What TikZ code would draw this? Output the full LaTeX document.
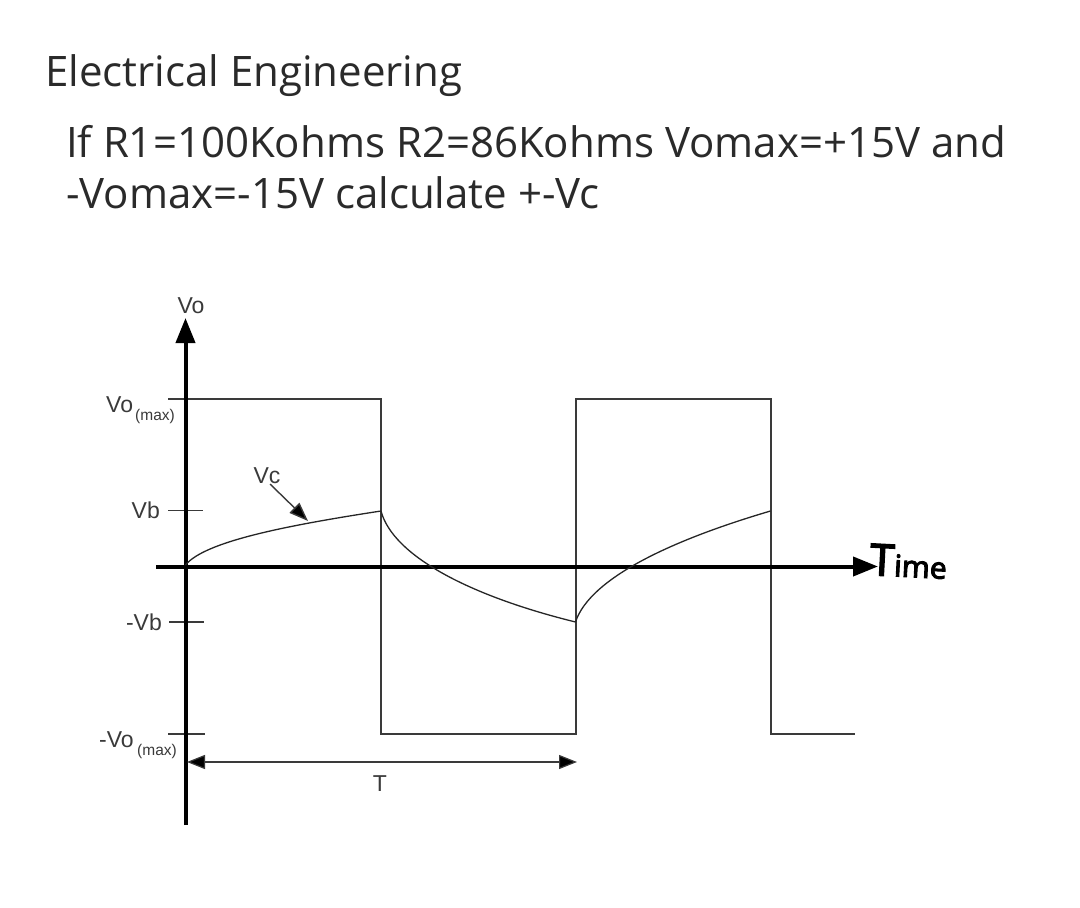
\documentclass[tikz,border=0pt]{standalone}
\usepackage{fontspec}
\setmainfont{Open Sans}
\newfontfamily\plotfont{Liberation Sans}
\newfontfamily\handfont[FakeBold=3]{Noto Sans}
\usetikzlibrary{arrows.meta}
\definecolor{inkc}{HTML}{2A2A2A}
\definecolor{plotc}{HTML}{3A3A3A}
\tikzset{
 x=1pt,y=-1pt,
 head/.style={anchor=base west,inner sep=0,font=\fontsize{42}{48}\selectfont,text=inkc},
 lab/.style={inner sep=0,anchor=base,font=\plotfont\fontsize{23}{26}\selectfont,text=plotc},
 sublab/.style={inner sep=0,anchor=base west,font=\plotfont\fontsize{15.5}{18}\selectfont,text=plotc},
 axis/.style={line width=4pt,black,-{Triangle[length=25pt,width=19pt]}},
 wave/.style={line width=2pt,plotc,line join=miter},
 tickl/.style={line width=1.5pt,plotc},
 thin curve/.style={line width=1.3pt,black!85},
 dim/.style={line width=1.2pt,plotc,{Triangle[length=18pt,width=14pt,fill=black]}-{Triangle[length=18pt,width=14pt,fill=black]}},
 pointer/.style={line width=1.4pt,plotc,-{Triangle[length=19pt,width=14pt,fill=black]}},
}
\begin{document}
\begin{tikzpicture}
\useasboundingbox (0,0) rectangle (1080,908);
\fill[white] (0,0) rectangle (1080,908);
% heading
\node[head] (title) at (45,86) {Electrical Engineering};
\node[head] (line1) at (66,157) {If R1=100Kohms R2=86Kohms Vomax=+15V and};
\node[head] (line2) at (66,208) {-Vomax=-15V calculate +-Vc};
% coordinates
\coordinate (yb) at (185.5,825);
\coordinate (yt) at (185.5,318);
\coordinate (xl) at (156,566.5);
\coordinate (xr) at (878,566.5);
\coordinate (w0) at (168,399);
\coordinate (w1) at (381,399);
\coordinate (w2) at (381,733.5);
\coordinate (w3) at (575.5,733.5);
\coordinate (w4) at (575.5,399);
\coordinate (w5) at (770.5,399);
\coordinate (w6) at (770.5,733.5);
\coordinate (w7) at (855,733.5);
\coordinate (c0) at (185.5,565);
\coordinate (c1) at (381,511);
\coordinate (c2) at (575.5,622);
\coordinate (c3) at (770.5,511);
\coordinate (tb1) at (168,510.7);
\coordinate (tb2) at (203,510.7);
\coordinate (tn1) at (169,622);
\coordinate (tn2) at (204,622);
\coordinate (tm1) at (168,734);
\coordinate (tm2) at (205,734);
\coordinate (ta) at (187,762);
\coordinate (tz) at (577,762);
\coordinate (vcs) at (270,484);
\coordinate (vce) at (308,521);
% waveform
\draw[wave] (w0) -- (w1) -- (w2) -- (w3) -- (w4) -- (w5) -- (w6) -- (w7);
% ticks
\draw[tickl] (tb1) -- (tb2);
\draw[tickl] (tn1) -- (tn2);
\draw[tickl] (tm1) -- (tm2);
% axes
\draw[axis] (yb) -- (yt);
\draw[axis] (xl) -- (xr);
% capacitor curve
\draw[thin curve] (c0) .. controls (205,541) and (290,525) .. (c1);
\draw[thin curve] (c1) .. controls (393,556) and (470,596) .. (c2);
\draw[thin curve] (c2) .. controls (590,578) and (672,540) .. (c3);
% arrows
\draw[dim] (ta) -- (tz);
\draw[pointer] (vcs) -- (vce);
% labels
\node[lab] (vo) at (191,313) {Vo};
\node[lab,anchor=base west] (vomax) at (106,412) {Vo};
\node[sublab] (vomaxs) at (135,420) {(max)};
\node[lab] (vc) at (267,483) {Vc};
\node[lab,anchor=base east] (vb) at (160,518) {Vb};
\node[lab,anchor=base east] (nvb) at (162,630) {-Vb};
\node[lab,anchor=base west] (nvo) at (99,747) {-Vo};
\node[sublab] (nvos) at (137,755) {(max)};
\node[lab] (t) at (380,791) {T};
\node[inner sep=0,anchor=base west,rotate=-3,font=\handfont\fontsize{44}{48}\selectfont,text=black] (time) at (869,575) {T\fontsize{30}{32}\selectfont ime};
\end{tikzpicture}
\end{document}
